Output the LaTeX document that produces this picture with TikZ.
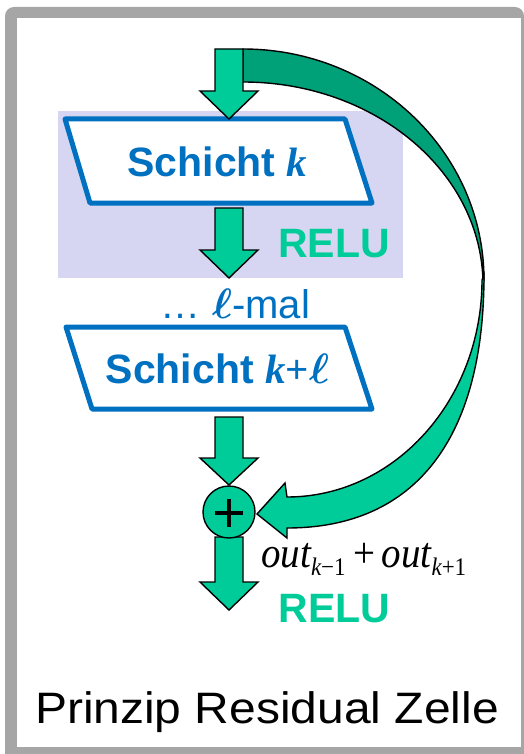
\documentclass[tikz,border=0pt]{standalone}
\usepackage{amsmath}
\usepackage{fontspec}
\setmainfont{Liberation Sans}
\newfontfamily\timesf{Liberation Serif}
\newcommand\ellc{{\fontsize{20}{24}\selectfont\scalebox{2.05}{$\boldsymbol{\ell}$}}}
\definecolor{framegray}{HTML}{A6A6A6}
\definecolor{grn}{HTML}{00CC99}
\definecolor{dgrn}{HTML}{00A078}
\definecolor{lav}{HTML}{D6D6F3}
\definecolor{blu}{HTML}{0070C0}
\newcommand\blockarrow[4]{% x, shaft top, head start, tip
  \draw[arrowshape] (#1-14,#2) -- (#1+14,#2) -- (#1+14,#3) -- (#1+29,#3) -- (#1,#4) -- (#1-29,#3) -- (#1-14,#3) -- cycle;}
\newcommand\subx[1]{\raisebox{-8pt}{\fontsize{23}{23}\selectfont #1}}
\begin{document}
\begin{tikzpicture}[x=1pt,y=-1pt,
  arrowshape/.style={fill=grn,draw=black,line width=1.4pt,line join=miter},
  layerbox/.style={fill=white,draw=blu,line width=5pt,line join=round},
  layertext/.style={anchor=base,inner sep=0pt,text=blu,font=\fontsize{41}{41}\selectfont\bfseries},
  relutext/.style={anchor=base,inner sep=0pt,text=grn,font=\fontsize{41}{41}\selectfont\bfseries}]
\useasboundingbox (0,0) rectangle (524,754);
% frame
\fill[framegray] {[rounded corners=9] (5,754) |- (524,7)} -- (524,754) -- cycle;
\fill[white] (17,18) rectangle (521,747);
% lavender background
\fill[lav] (58,111) rectangle (403,278);
% back (dark) part of curved arrow
\draw[fill=dgrn,draw=black,line width=1.4pt]
  (243,49) arc[start angle=-90,end angle=0,x radius=241,y radius=231]
  -- (483,285) arc[start angle=0,end angle=-90,x radius=240,y radius=203] -- cycle;
% front (light) part of curved arrow with head
\draw[arrowshape]
  (484,275) .. controls (484,439) and (415,528) .. (287,528)
  -- (287,538) -- (257,514) -- (285,483) -- (287,497)
  arc[start angle=90,end angle=0,x radius=195,y radius=217] -- cycle;
% layer boxes
\draw[layerbox] (65,119) -- (345,119) -- (372,203) -- (90,203) -- cycle;
\node[layertext] (s1) at (217.5,177) {Schicht {\timesf\bfseries\itshape k}};
\draw[layerbox] (66,327) -- (345,327) -- (372,409) -- (92,409) -- cycle;
\node[layertext] (s2) at (217.5,383) {Schicht {\timesf\bfseries\itshape k}{\timesf\bfseries +}\ellc};
% arrows
\blockarrow{229}{49}{91}{119}
\blockarrow{229}{208}{250}{278}
\blockarrow{229}{417}{458}{485}
\blockarrow{229}{537}{582}{610}
% sum node
\node[circle,fill=grn,draw=black,line width=1.4pt,minimum size=52pt,inner sep=0pt] (sum) at (229,512) {};
\draw[line width=3.2pt] (215,513) -- (243,513) (229,499) -- (229,527);
% texts
\node[relutext] (r1) at (334,257) {RELU};
\node[anchor=base,inner sep=0pt,text=blu,font=\fontsize{40}{40}\selectfont] (lm) at (235.5,318) {… \ellc-mal};
\node[anchor=base west,inner sep=0pt,font=\fontsize{39}{39}\selectfont\timesf] (out) at (261,567)
  {\scalebox{1}[1.1]{\itshape out\subx{k\upshape −1}\hspace{8pt}\upshape+\hspace{6pt}\itshape out\subx{k\upshape+1}}};
\node[relutext] (r2) at (334.5,622) {RELU};
\node[anchor=base,inner sep=0pt,font=\fontsize{44}{44}\selectfont] (title) at (267,723) {\scalebox{1.09}[1]{Prinzip Residual Zelle}};
\end{tikzpicture}
\end{document}
